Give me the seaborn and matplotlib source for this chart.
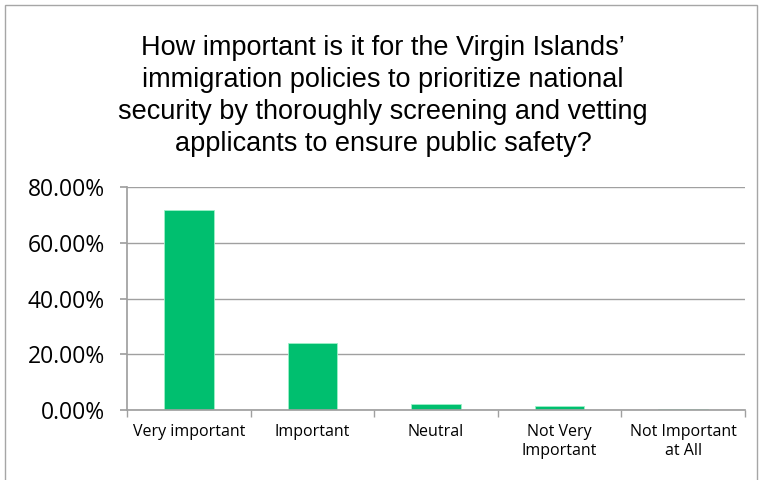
import matplotlib
matplotlib.use("Agg")
import matplotlib.pyplot as plt
import seaborn as sns
import pandas as pd
from matplotlib.patches import Rectangle
from matplotlib.ticker import FuncFormatter, FixedLocator

categories = ["Very important", "Important", "Neutral", "Not Very\nImportant", "Not Important\nat All"]
values = [0.718, 0.241, 0.020, 0.014, 0.003]
title = ("How important is it for the Virgin Islands\u2019\n"
         "immigration policies to prioritize national\n"
         "security by thoroughly screening and vetting\n"
         "applicants to ensure public safety?")
yticks = [0.0, 0.2, 0.4, 0.6, 0.8]

sns.set_theme(style="white")
plt.rcParams['font.family'] = ['Liberation Sans', 'DejaVu Sans']

df = pd.DataFrame({"cat": categories, "val": values})

fig = plt.figure(figsize=(7.65, 4.8), dpi=100)
fig.patch.set_facecolor("white")
fig.patches.append(Rectangle((5/765, -0.01), 752/765, 1 - 5/480 + 0.01, transform=fig.transFigure,
                             fill=False, edgecolor="#a6a6a6", linewidth=1.0))

ax = fig.add_axes([127/765, 1 - 410/480, 618/765, 223/480])
sns.barplot(data=df, x="cat", y="val", ax=ax, color="#00BF6F", width=0.4, saturation=1,
            edgecolor="#9ef0c8", linewidth=0.6)

ax.set_xlim(-0.5, 4.5)
ax.set_ylim(0, 0.8)
ax.set_yticks(yticks)
ax.yaxis.set_major_formatter(FuncFormatter(lambda v, p: f"{v*100:.2f}%"))
ax.grid(axis="y", color="#a0a0a0", linewidth=1.0)
ax.set_axisbelow(True)
for s in ["top", "right"]:
    ax.spines[s].set_visible(False)
ax.spines["left"].set_color("#a0a0a0")
ax.spines["bottom"].set_color("#a0a0a0")
ax.set_xlabel("")
ax.set_ylabel("")

ax.tick_params(axis="y", which="major", length=5, color="#a0a0a0", left=True, labelsize=16.5,
               pad=11, labelcolor="black")
ax.tick_params(axis="x", which="major", length=0, labelsize=11.5, pad=10, labelcolor="black")
ax.xaxis.set_minor_locator(FixedLocator([-0.5, 0.5, 1.5, 2.5, 3.5, 4.5]))
ax.tick_params(axis="x", which="minor", length=5, color="#a0a0a0", bottom=True, direction="out")
for lab in ax.get_xticklabels():
    lab.set_fontfamily(["Open Sans", "DejaVu Sans"])
    lab.set_linespacing(1.3)
for lab in ax.get_yticklabels():
    lab.set_fontfamily(["Open Sans", "DejaVu Sans"])

fig.text(383/765, 1 - 96/480, title, ha="center", va="center", fontsize=19.5,
         linespacing=1.29, color="black")

fig.savefig("out.png", dpi=100)
